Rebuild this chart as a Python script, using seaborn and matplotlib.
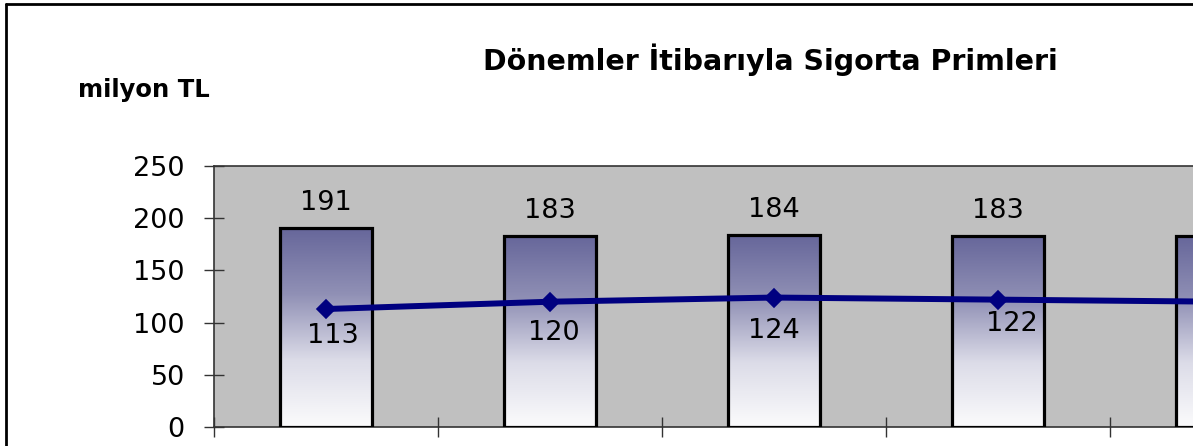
import matplotlib
matplotlib.use("Agg")
import matplotlib.pyplot as plt
import numpy as np
import pandas as pd
import seaborn as sns
from matplotlib.lines import Line2D

# data (x labels are cut off in the reference)
categories = ["Dönem 1", "Dönem 2", "Dönem 3", "Dönem 4", "Dönem 5"]
bar_values = [191, 183, 184, 183, 183]
line_values = [113, 120, 124, 122, 120]
yticks = [0, 50, 100, 150, 200, 250]

# where the line labels sit relative to their points (px)
line_label_offsets = [(7, -27), (4, -31), (0, -33), (14, -24), (8, -28)]

df = pd.DataFrame({"donem": categories, "prim": bar_values, "hat": line_values})

sns.set_theme(style="ticks")
plt.rcParams['font.family'] = ['DejaVu Sans']
plt.rcParams['text.color'] = 'black'
plt.rcParams['ytick.labelcolor'] = 'black'

W, H = 1193, 446
fig = plt.figure(figsize=(W / 100, H / 100), dpi=100)
fig.patch.set_facecolor("white")

# plot area, runs off the right edge like the reference crop
ax = fig.add_axes([214 / W, (H - 427) / H, 1120 / W, 261 / H])
ax.set_facecolor("#C0C0C0")

sns.barplot(data=df, x="donem", y="prim", ax=ax, width=0.41,
            facecolor="none", edgecolor="black", linewidth=2.3, zorder=3)

# vertical gradient inside every bar
grad = np.linspace(1, 0, 256).reshape(-1, 1)
cmap = matplotlib.colors.LinearSegmentedColormap.from_list(
    "g", ["#fbfbfc", "#dcdce8", "#9090b5", "#66669a"])
for p in ax.patches:
    x0, y0 = p.get_x(), p.get_y()
    im = ax.imshow(grad, cmap=cmap, aspect="auto", zorder=2,
                   extent=[x0, x0 + p.get_width(), y0, y0 + p.get_height()])
    im.set_clip_path(p)

sns.pointplot(data=df, x="donem", y="hat", ax=ax, color="#000080",
              markers="D", markersize=7, linewidth=4.3, zorder=5)

ax.set_xlim(-0.5, 4.5)
ax.set_ylim(0, 250)
ax.set_yticks(yticks)
ax.set_xticks(np.arange(-0.5, 5, 1))
ax.tick_params(axis="both", direction="inout", length=14, width=1, color="#333333")
ax.tick_params(axis="x", labelbottom=False)
ax.tick_params(axis="y", labelsize=19.5, pad=14)
ax.set_xlabel("")
ax.set_ylabel("")
for s in ax.spines.values():
    s.set_color("#333333")
    s.set_linewidth(1.2)

# value labels (the last category's labels fall outside the cropped picture)
def inside(i):
    return ax.transData.transform((i, 0))[0] + 30 < W

for i, v in enumerate(bar_values):
    if inside(i):
        ax.annotate(str(v), (i, v), xytext=(0, 25 * 0.72), textcoords="offset points",
                    ha="center", va="center", fontsize=19.5)
for i, v in enumerate(line_values):
    if inside(i):
        dx, dy = line_label_offsets[i]
        ax.annotate(str(v), (i, v), xytext=(dx * 0.72, dy * 0.72), textcoords="offset points",
                    ha="center", va="center", fontsize=19.5)

fig.text(770 / W, 1 - 60 / H, "Dönemler İtibarıyla Sigorta Primleri",
         ha="center", va="center", fontsize=20.5, fontweight="bold")
fig.text(78 / W, 1 - 90 / H, "milyon TL", ha="left", va="center",
         fontsize=17.5, fontweight="bold")

# outer chart border (only left and top visible in the crop)
fig.add_artist(Line2D([6.5 / W, 6.5 / W], [0, 1 - 4 / H], color="black", linewidth=2))
fig.add_artist(Line2D([6.5 / W, 1], [1 - 4 / H, 1 - 4 / H], color="black", linewidth=2))

fig.savefig("out.png", dpi=100)
